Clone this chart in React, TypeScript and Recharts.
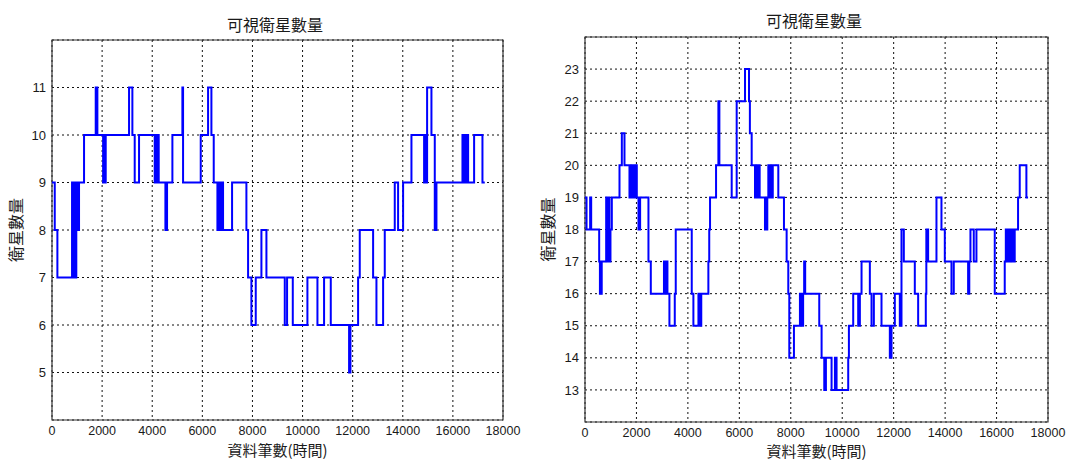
import React from "react";
import {
  LineChart,
  Line,
  XAxis,
  YAxis,
  CartesianGrid,
  ReferenceArea,
  Label,
} from "recharts";

const chartTitle = "可視衛星數量";
const xAxisTitle = "資料筆數(時間)";
const yAxisTitle = "衛星數量";

const xTicks = [0, 2000, 4000, 6000, 8000, 10000, 12000, 14000, 16000, 18000];
const leftYTicks = [5, 6, 7, 8, 9, 10, 11];
const rightYTicks = [13, 14, 15, 16, 17, 18, 19, 20, 21, 22, 23];

// step change points (x = record index, y = satellite count from that x on)
const leftStepX = [
  0, 110, 215, 800, 850, 890, 930, 970, 1013, 1079, 1279, 1745, 1811, 2040, 2070,
  2090, 2144, 3075, 3208, 3301, 3474, 4100, 4130, 4160, 4190, 4220, 4240, 4259,
  4526, 4592, 4805, 5204, 5231, 5936, 6229, 6362, 6455, 6602, 6655, 6690, 6720,
  6760, 6790, 6827, 7187, 7759, 7826, 7958, 8132, 8358, 8558, 9290, 9382, 9610,
  10194, 10594, 10859, 11126, 11857, 11911, 12217, 12283, 12816, 12949, 13215,
  13281, 13680, 13813, 14013, 14346, 14851, 14890, 14930, 14971, 15144, 15277,
  15344, 16382, 16420, 16460, 16500, 16540, 16608, 16847, 17180, 17273,
];
const leftStepY = [
  9, 8, 7, 9, 7, 9, 7, 9, 8, 9, 10, 11, 10, 9, 10,
  9, 10, 11, 10, 9, 10, 9, 10, 9, 10, 9, 10, 9,
  8, 9, 10, 11, 9, 10, 11, 10, 9, 8, 9, 8, 9,
  8, 9, 8, 9, 8, 7, 6, 7, 8, 7, 6, 7, 6,
  7, 6, 7, 6, 5, 6, 7, 8, 7, 6, 7,
  8, 9, 8, 9, 10, 9, 10, 9, 11, 10, 8,
  9, 10, 9, 10, 9, 10, 9, 10, 9, 9,
];

const rightStepX = [
  0, 60, 200, 240, 551, 580, 650, 823, 870, 911, 950, 990, 1043, 1341, 1432, 1535,
  1729, 1770, 1810, 1850, 1900, 1950, 2014, 2079, 2143, 2467, 2558, 3070, 3140,
  3170, 3205, 3282, 3490, 3528, 4150, 4214, 4410, 4450, 4520, 4796, 4830, 4861,
  5095, 5186, 5224, 5703, 5897, 6221, 6376, 6410, 6480, 6609, 6660, 6700, 6750,
  6790, 6997, 7030, 7050, 7087, 7127, 7170, 7210, 7250, 7300, 7515, 7735, 7839,
  7903, 7942, 8123, 8356, 8390, 8420, 8450, 8480, 8520, 8560, 9107, 9198, 9302,
  9366, 9586, 9716, 9780, 10233, 10260, 10427, 10621, 10686, 10751, 11074, 11139,
  11230, 11527, 11851, 11916, 12045, 12239, 12304, 12395, 12822, 12952, 13249,
  13270, 13300, 13320, 13340, 13664, 13858, 13988, 14247, 14337, 14894, 14940,
  14985, 15114, 15218, 15930, 16318, 16360, 16400, 16440, 16480, 16530, 16570,
  16620, 16660, 16706, 16836, 16901, 17160, 17225,
];
const rightStepY = [
  19, 18, 19, 18, 17, 16, 17, 19, 17, 19, 17, 18, 19, 20, 21, 20,
  19, 20, 19, 20, 19, 20, 19, 18, 19, 17, 16, 17, 16,
  17, 16, 15, 16, 18, 16, 15, 16, 15, 16, 17, 18, 19,
  20, 22, 20, 19, 22, 23, 22, 21, 20, 19, 20, 19, 20,
  19, 18, 19, 18, 19, 20, 19, 20, 19, 20, 19, 18, 17,
  16, 14, 15, 16, 15, 16, 15, 16, 17, 16, 15, 14, 13,
  14, 13, 14, 13, 14, 15, 16, 15, 16, 17, 16, 15,
  16, 15, 14, 15, 16, 15, 18, 17, 16, 15, 16,
  18, 17, 18, 17, 19, 18, 17, 16, 17, 16, 17,
  18, 17, 18, 16, 17, 18, 17, 18, 17, 18, 17,
  18, 17, 18, 19, 20, 19, 19,
];

const tickStyle = { fontFamily: "Liberation Sans, Arial, sans-serif", fontSize: 13, fill: "#1a1a1a" };
const xTickStyle = { ...tickStyle, fontSize: 12.5 };
const cjkFont = "'Noto Sans CJK TC', 'Noto Sans CJK SC', sans-serif";

interface PanelProps {
  stepX: number[];
  stepY: number[];
  yDomain: [number, number];
  yTicks: number[];
  offsetX: number;
  margin: { top: number; right: number; bottom: number; left: number };
  xAxisHeight: number;
  xLabelOffset: number;
  yLabelOffset: number;
  titleX: number;
  titleY: number;
}

function SatPanel({
  stepX,
  stepY,
  yDomain,
  yTicks,
  offsetX,
  margin,
  xAxisHeight,
  xLabelOffset,
  yLabelOffset,
  titleX,
  titleY,
}: PanelProps) {
  const data = stepX.map((x, i) => ({ x, y: stepY[i] }));

  return (
    <div style={{ position: "absolute", left: offsetX, top: 0, width: 534, height: 462 }}>
      <div
        style={{
          position: "absolute",
          left: titleX - 100,
          top: titleY - 11,
          width: 200,
          lineHeight: "22px",
          textAlign: "center",
          fontFamily: cjkFont,
          fontSize: 16,
          color: "#1a1a1a",
        }}
      >
        {chartTitle}
      </div>
      <LineChart width={534} height={462} data={data} margin={margin}>
        <CartesianGrid stroke="#111" strokeDasharray="2 3" strokeWidth={1} />
        <XAxis
          type="number"
          dataKey="x"
          domain={[0, 18000]}
          ticks={xTicks}
          interval={0}
          height={xAxisHeight}
          axisLine={false}
          tickLine={false}
          tickSize={4}
          tickMargin={2}
          tick={xTickStyle}
        >
          <Label
            value={xAxisTitle}
            position="insideBottom"
            offset={xLabelOffset}
            style={{ fontFamily: cjkFont, fontSize: 15, fill: "#1a1a1a" }}
          />
        </XAxis>
        <YAxis
          type="number"
          domain={yDomain}
          ticks={yTicks}
          interval={0}
          width={40}
          axisLine={false}
          tickLine={false}
          tickSize={4}
          tickMargin={2}
          tick={tickStyle}
        >
          <Label
            value={yAxisTitle}
            angle={-90}
            position="insideLeft"
            offset={yLabelOffset}
            style={{ fontFamily: cjkFont, fontSize: 16, fill: "#1a1a1a", textAnchor: "middle" }}
          />
        </YAxis>
        <Line
          type="stepAfter"
          dataKey="y"
          stroke="#0000FF"
          strokeWidth={2}
          dot={false}
          isAnimationActive={false}
        />
        <ReferenceArea
          x1={0}
          x2={18000}
          y1={yDomain[0]}
          y2={yDomain[1]}
          fill="none"
          stroke="#333"
          strokeWidth={1.2}
        />
      </LineChart>
    </div>
  );
}

export default function App() {
  return (
    <div
      style={{
        position: "absolute",
        left: 0,
        top: 0,
        width: 1068,
        height: 462,
        background: "#fff",
      }}
    >
      <SatPanel
        stepX={leftStepX}
        stepY={leftStepY}
        yDomain={[4, 12]}
        yTicks={leftYTicks}
        offsetX={0}
        margin={{ top: 40, right: 31, bottom: 2, left: 12 }}
        xAxisHeight={40}
        xLabelOffset={4}
        yLabelOffset={4}
        titleX={275}
        titleY={24}
      />
      <SatPanel
        stepX={rightStepX}
        stepY={rightStepY}
        yDomain={[12, 24]}
        yTicks={rightYTicks}
        offsetX={534}
        margin={{ top: 37, right: 20, bottom: 2, left: 11 }}
        xAxisHeight={38}
        xLabelOffset={3}
        yLabelOffset={3}
        titleX={280}
        titleY={20}
      />
    </div>
  );
}
